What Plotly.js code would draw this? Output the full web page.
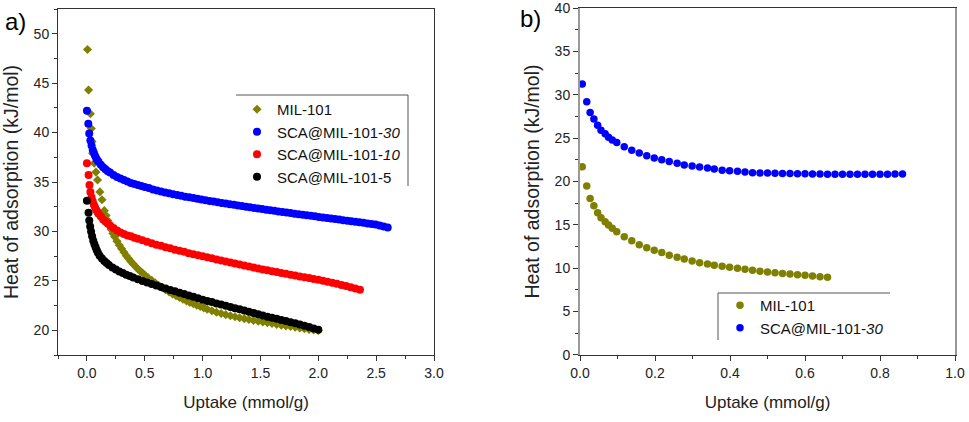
<!DOCTYPE html>
<html>
<head>
<meta charset="utf-8">
<script src="https://cdn.plot.ly/plotly-3.0.1.min.js"></script>
<style>html,body{margin:0;padding:0;background:#fff;}#plot{width:969px;height:422px;}</style>
</head>
<body>
<div id="plot"></div>
<script>
// ---------- Panel a) ----------
const mil101A_x = [0.005,0.014,0.030,0.038,0.044,0.049,0.063,0.078,0.092,0.112,0.13,0.15,0.165,0.18,0.195,0.21,0.225,0.24,0.26,0.28,0.30,0.32,0.34,0.36,0.38,0.40,0.42,0.44,0.46,0.48,0.50,0.53,0.56,0.59,0.62,0.65,0.68,0.71,0.74,0.77,0.80,0.83,0.86,0.89,0.92,0.95,0.98,1.01,1.04,1.08,1.12,1.16,1.20,1.24,1.28,1.32,1.36,1.40,1.44,1.48,1.52,1.56,1.60,1.64,1.68,1.72,1.76,1.80,1.84,1.88,1.92,1.96,2.00];
const mil101A_y = [48.4,44.3,41.9,40.4,39.1,37.9,36.9,36.0,35.2,34.0,33.2,32.1,31.6,31.1,30.7,30.2,29.8,29.45,29.0,28.6,28.25,27.9,27.55,27.25,26.95,26.7,26.45,26.2,26.0,25.8,25.6,25.3,25.05,24.8,24.55,24.3,24.1,23.88,23.68,23.5,23.32,23.15,22.98,22.82,22.68,22.54,22.4,22.27,22.14,21.98,21.83,21.7,21.58,21.47,21.37,21.27,21.18,21.09,21.0,20.92,20.84,20.76,20.68,20.6,20.52,20.45,20.38,20.3,20.23,20.16,20.09,20.03,19.98];

const sca30A_x = [0.000,0.012,0.02,0.03,0.04,0.05,0.06,0.07,0.08,0.09,0.10,0.12,0.14,0.16,0.18,0.20,0.23,0.26,0.29,0.32,0.35,0.38,0.41,0.44,0.47,0.50,0.535,0.57,0.605,0.64,0.675,0.71,0.745,0.78,0.815,0.85,0.885,0.92,0.955,0.99,1.025,1.06,1.095,1.13,1.165,1.20,1.235,1.27,1.305,1.34,1.375,1.41,1.445,1.48,1.515,1.55,1.585,1.62,1.655,1.69,1.725,1.76,1.795,1.83,1.865,1.90,1.935,1.97,2.005,2.04,2.075,2.11,2.145,2.18,2.215,2.25,2.285,2.32,2.355,2.39,2.425,2.46,2.495,2.53,2.565,2.60];
const sca30A_y = [42.2,40.9,39.9,39.2,38.7,38.25,37.95,37.65,37.4,37.2,37.05,36.75,36.5,36.3,36.1,35.95,35.7,35.5,35.35,35.2,35.05,34.9,34.8,34.7,34.6,34.5,34.4,34.25,34.15,34.05,33.95,33.85,33.75,33.68,33.6,33.52,33.45,33.37,33.3,33.23,33.16,33.09,33.02,32.95,32.88,32.82,32.75,32.69,32.62,32.56,32.5,32.44,32.38,32.32,32.26,32.2,32.14,32.08,32.02,31.97,31.91,31.86,31.8,31.75,31.69,31.64,31.58,31.53,31.47,31.42,31.36,31.31,31.25,31.2,31.14,31.09,31.03,30.98,30.92,30.87,30.81,30.75,30.69,30.6,30.5,30.4];

const sca10A_x = [0.000,0.014,0.022,0.03,0.04,0.05,0.06,0.07,0.08,0.09,0.10,0.12,0.14,0.16,0.18,0.20,0.23,0.26,0.29,0.32,0.35,0.38,0.41,0.44,0.48,0.52,0.56,0.60,0.64,0.68,0.72,0.76,0.80,0.84,0.88,0.92,0.96,1.00,1.04,1.08,1.12,1.16,1.20,1.24,1.28,1.32,1.36,1.40,1.44,1.48,1.52,1.56,1.60,1.64,1.68,1.72,1.76,1.80,1.84,1.88,1.92,1.96,2.00,2.04,2.08,2.12,2.16,2.20,2.24,2.28,2.32,2.36];
const sca10A_y = [36.9,35.7,34.7,34.0,33.45,33.05,32.7,32.45,32.2,32.0,31.8,31.5,31.2,31.0,30.8,30.6,30.35,30.1,29.9,29.75,29.6,29.5,29.35,29.25,29.1,28.95,28.8,28.65,28.55,28.4,28.3,28.15,28.05,27.95,27.8,27.7,27.6,27.5,27.38,27.28,27.17,27.06,26.95,26.85,26.75,26.65,26.55,26.45,26.35,26.25,26.16,26.07,25.98,25.89,25.8,25.71,25.62,25.53,25.45,25.37,25.28,25.19,25.1,25.0,24.9,24.8,24.7,24.58,24.47,24.35,24.22,24.1];

const sca5A_x = [0.000,0.014,0.02,0.028,0.036,0.045,0.055,0.065,0.075,0.085,0.095,0.11,0.13,0.15,0.17,0.19,0.22,0.25,0.28,0.31,0.34,0.37,0.40,0.44,0.48,0.52,0.56,0.60,0.64,0.68,0.72,0.76,0.80,0.84,0.88,0.92,0.96,1.00,1.04,1.08,1.12,1.16,1.20,1.24,1.28,1.32,1.36,1.40,1.44,1.48,1.52,1.56,1.60,1.64,1.68,1.72,1.76,1.80,1.84,1.88,1.92,1.96,2.00];
const sca5A_y = [33.1,31.9,31.1,30.5,30.0,29.5,29.05,28.7,28.4,28.1,27.85,27.55,27.25,27.0,26.8,26.6,26.35,26.15,25.95,25.8,25.62,25.48,25.33,25.15,24.98,24.83,24.67,24.52,24.37,24.22,24.08,23.95,23.8,23.66,23.52,23.38,23.24,23.1,22.97,22.85,22.72,22.6,22.48,22.36,22.24,22.12,22.0,21.87,21.74,21.62,21.5,21.38,21.27,21.16,21.05,20.94,20.82,20.7,20.58,20.45,20.32,20.18,20.05];

// ---------- Panel b) ----------
const mil101B_x = [0.006,0.018,0.027,0.037,0.047,0.056,0.067,0.076,0.086,0.098,0.118,0.138,0.158,0.178,0.198,0.218,0.238,0.259,0.278,0.299,0.319,0.34,0.358,0.379,0.399,0.42,0.44,0.46,0.48,0.50,0.52,0.54,0.56,0.58,0.60,0.62,0.64,0.66];
const mil101B_y = [21.7,19.48,18.05,17.2,16.4,15.83,15.37,14.99,14.6,14.2,13.64,13.18,12.7,12.37,12.06,11.8,11.5,11.26,11.07,10.84,10.64,10.49,10.34,10.22,10.1,9.99,9.88,9.76,9.64,9.55,9.47,9.4,9.32,9.25,9.18,9.1,9.02,8.95];

const sca30B_x = [0.006,0.018,0.027,0.037,0.047,0.056,0.067,0.076,0.086,0.098,0.118,0.138,0.158,0.178,0.198,0.218,0.238,0.259,0.278,0.299,0.319,0.34,0.358,0.379,0.399,0.42,0.44,0.46,0.48,0.50,0.52,0.54,0.56,0.58,0.60,0.62,0.64,0.66,0.68,0.70,0.72,0.74,0.76,0.78,0.80,0.82,0.84,0.86];
const sca30B_y = [31.25,29.2,27.97,27.2,26.5,25.9,25.5,25.1,24.8,24.5,24.0,23.6,23.3,22.97,22.7,22.5,22.3,22.1,21.9,21.8,21.67,21.56,21.44,21.3,21.24,21.17,21.1,21.0,20.98,20.97,20.95,20.93,20.91,20.9,20.88,20.87,20.86,20.85,20.84,20.84,20.83,20.83,20.83,20.84,20.84,20.85,20.86,20.87];

const names = ['MIL-101','SCA@MIL-101-<i>30</i>','SCA@MIL-101-<i>10</i>','SCA@MIL-101-5'];
const colors = ['#808000','#0000ff','#ff0000','#000000'];

const FONT = 'Arial, "Liberation Sans", sans-serif';
const W = 969, H = 422;
const px = v => v / W;
const py = v => 1 - v / H;

function tr(x, y, name, color, symbol, size, xa, ya, legend) {
  return {x: x, y: y, name: name, type: 'scatter', mode: 'markers',
    xaxis: xa, yaxis: ya, legend: legend,
    marker: {color: color, symbol: symbol, size: size, line: {width: 0}}};
}

const data = [
  tr(mil101A_x, mil101A_y, names[0], colors[0], 'diamond', 7, 'x', 'y', 'legend'),
  tr(sca30A_x, sca30A_y, names[1], colors[1], 'circle', 8, 'x', 'y', 'legend'),
  tr(sca10A_x, sca10A_y, names[2], colors[2], 'circle', 8, 'x', 'y', 'legend'),
  tr(sca5A_x, sca5A_y, names[3], colors[3], 'circle', 8, 'x', 'y', 'legend'),
  tr(mil101B_x, mil101B_y, names[0], colors[0], 'circle', 7.5, 'x2', 'y2', 'legend2'),
  tr(sca30B_x, sca30B_y, names[1], colors[1], 'circle', 7.5, 'x2', 'y2', 'legend2')
];

const axBase = {
  showline: true, mirror: true, linecolor: '#333', linewidth: 1,
  ticks: 'outside', ticklen: 5, tickwidth: 1, tickcolor: '#333',
  showgrid: false, zeroline: false, automargin: false,
  ticklabeloverflow: 'allow',
  tickfont: {family: FONT, size: 14, color: '#222'}
};

const layout = {
  width: W, height: H,
  margin: {l: 0, r: 0, t: 0, b: 0},
  paper_bgcolor: '#fff', plot_bgcolor: '#fff',
  font: {family: FONT, color: '#000'},
  showlegend: true,
  xaxis: Object.assign({}, axBase, {
    domain: [px(58), px(434)], range: [-0.25, 3.0], dtick: 0.5, tick0: 0, tickformat: '.1f',
    minor: {dtick: 0.25, ticks: 'outside', ticklen: 3, tickcolor: '#333'},
    anchor: 'y',
    title: {text: 'Uptake (mmol/g)', font: {family: FONT, size: 17, color: '#222'}, standoff: 16}
  }),
  yaxis: Object.assign({}, axBase, {
    domain: [py(355), py(9)], range: [17.5, 52.5], dtick: 5, tick0: 0,
    minor: {dtick: 2.5, ticks: 'outside', ticklen: 3, tickcolor: '#333'},
    anchor: 'x',
    title: {text: 'Heat of adsorption (kJ/mol)', font: {family: FONT, size: 19.5, color: '#222'}, standoff: 11}
  }),
  xaxis2: Object.assign({}, axBase, {
    domain: [px(580), px(955)], range: [0, 1.0], dtick: 0.2, tick0: 0, tickformat: '.1f',
    minor: {dtick: 0.1, ticks: 'outside', ticklen: 3, tickcolor: '#333'},
    anchor: 'y2',
    title: {text: 'Uptake (mmol/g)', font: {family: FONT, size: 17, color: '#222'}, standoff: 16}
  }),
  yaxis2: Object.assign({}, axBase, {
    domain: [py(355), py(8)], range: [-0.01, 40.01], dtick: 5, tick0: 0,
    minor: {dtick: 2.5, ticks: 'outside', ticklen: 3, tickcolor: '#333'},
    anchor: 'x2', linecolor: '#999', linewidth: 2,
    title: {text: 'Heat of adsorption (kJ/mol)', font: {family: FONT, size: 19.5, color: '#222'}, standoff: 10}
  }),
  legend: {
    x: px(237), y: py(93), xanchor: 'left', yanchor: 'top',
    bgcolor: 'rgba(0,0,0,0)', borderwidth: 0,
    font: {family: FONT, size: 15, color: '#111'}
  },
  legend2: {
    x: px(720), y: py(289), xanchor: 'left', yanchor: 'top',
    bgcolor: 'rgba(0,0,0,0)', borderwidth: 0,
    font: {family: FONT, size: 15, color: '#111'}
  },
  shapes: [
    {type: 'line', xref: 'paper', yref: 'paper', x0: px(236), x1: px(408), y0: py(95), y1: py(95), line: {color: '#555', width: 1}},
    {type: 'line', xref: 'paper', yref: 'paper', x0: px(408), x1: px(408), y0: py(95), y1: py(186), line: {color: '#555', width: 1}},
    {type: 'line', xref: 'paper', yref: 'paper', x0: px(718), x1: px(890), y0: py(293), y1: py(293), line: {color: '#555', width: 1}},
    {type: 'line', xref: 'paper', yref: 'paper', x0: px(718), x1: px(718), y0: py(293), y1: py(340), line: {color: '#555', width: 1}}
  ],
  annotations: [
    {text: 'a)', xref: 'paper', yref: 'paper', x: px(15), y: py(22), xanchor: 'center', yanchor: 'middle', showarrow: false, font: {family: FONT, size: 24, color: '#000'}},
    {text: 'b)', xref: 'paper', yref: 'paper', x: px(530), y: py(19), xanchor: 'center', yanchor: 'middle', showarrow: false, font: {family: FONT, size: 24, color: '#000'}}
  ]
};

Plotly.newPlot('plot', data, layout, {displayModeBar: false, staticPlot: true});
</script>
</body>
</html>
